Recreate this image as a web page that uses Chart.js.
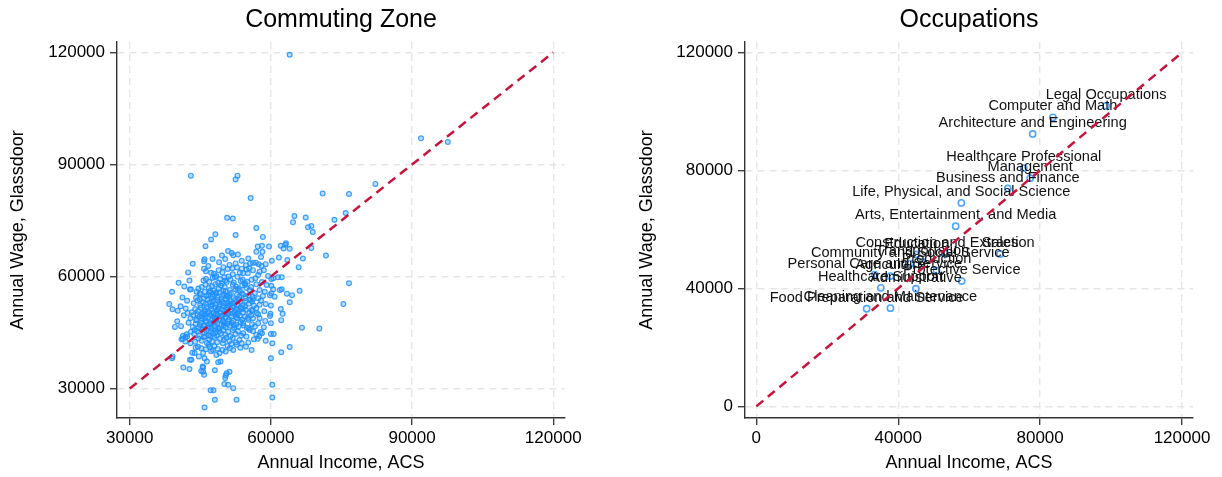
<!DOCTYPE html>
<html>
<head>
<meta charset="utf-8">
<script src="https://cdn.jsdelivr.net/npm/chart.js@4/dist/chart.umd.min.js"></script>
<style>
  html, body { margin: 0; padding: 0; background: #ffffff; }
  #wrap { position: relative; width: 1222px; height: 477px; }
  canvas { position: absolute; top: 0; }
  #cz { left: 0; }
  #occ { left: 611px; }
</style>
</head>
<body>
<div id="wrap">
  <canvas id="cz" width="611" height="477"></canvas>
  <canvas id="occ" width="611" height="477"></canvas>
</div>
<script>
// Commuting zones: [annual income ACS, annual wage Glassdoor], in thousands of dollars
const czPairs = [
  [64.0,119.4],[91.9,97.0],[97.6,96.0],[43.0,87.0],[52.9,87.0],[52.5,86.0],[55.7,81.0],[82.2,84.8],
  [71.0,82.2],[76.6,82.1],[75.9,77.0],[73.5,75.2],[65.0,76.2],[64.7,74.5],[67.4,75.8],[67.9,73.2],
  [68.6,73.5],[68.9,71.9],[50.7,75.7],[51.9,75.5],[48.2,71.3],[47.3,69.9],[52.5,71.1],[56.9,73.0],
  [58.3,70.6],[46.1,68.1],[57.2,68.0],[56.9,66.6],[58.2,66.6],[59.6,68.0],[63.2,68.9],[63.1,68.5],
  [62.1,68.2],[62.7,67.5],[64.0,67.4],[68.6,67.6],[71.7,65.6],[66.8,64.8],[65.9,62.5],[60.2,64.2],
  [61.7,65.1],[63.5,64.4],[76.6,58.2],[75.4,52.6],[70.3,46.1],[66.6,46.3],[66.1,56.2],[64.5,55.0],
  [63.4,55.4],[64.0,53.1],[62.1,51.3],[62.5,50.0],[62.2,48.3],[64.0,41.1],[62.2,39.7],[60.0,38.1],
  [60.3,31.0],[60.3,27.6],[52.0,30.1],[52.7,27.0],[50.9,31.0],[50.1,31.2],[50.3,32.8],[50.4,33.5],
  [50.6,34.1],[51.2,34.5],[47.2,29.5],[47.8,29.5],[48.1,27.0],[45.9,24.9],[48.1,34.9],[45.6,35.6],
  [45.8,33.7],[41.4,35.6],[42.7,35.2],[39.0,38.1],[42.8,37.7],[38.4,52.6],[39.1,51.2],[39.0,55.9],
  [40.4,58.3],[39.6,46.5],[40.1,48.0],[40.9,46.7],[41.3,43.3],[41.8,43.7],[42.2,43.9],[42.4,61.1],
  [43.4,63.4],[42.2,53.5],[42.8,56.5],[42.5,47.6],[43.0,45.2],[42.9,42.1],
  [51.7,66.3],[52.0,65.7],[53.0,65.9],[50.3,64.7],[45.9,64.6],[45.8,64.1],[45.8,62.1],[46.2,61.4],
  [46.7,62.8],[51.8,62.2],[50.8,62.0],[52.8,62.4],[47.9,60.7],[48.4,60.1],[48.1,59.8],[45.7,58.9],
  [46.2,59.3],[43.0,56.6],[49.2,59.3],[50.1,59.8],[49.6,58.2],[51.0,60.0],[50.6,58.5],[52.5,56.6],
  [53.0,56.7],[47.1,56.1],[46.7,55.1],[47.7,54.6],[44.2,55.9],[44.9,55.5],[48.4,55.5],[49.7,54.8],
  [50.6,54.8],
  [58.1,68.2],[57.9,65.2],[56.2,63.7],[56.8,63.7],[57.4,63.3],[55.6,63.5],[58.9,63.3],[58.0,62.8],
  [58.5,61.7],[53.8,62.1],[54.8,61.9],[55.4,62.2],[56.2,61.7],[54.1,60.9],[55.1,60.9],[54.0,59.1],
  [55.0,58.6],[55.9,59.1],[56.7,59.5],[57.3,60.4],[57.6,61.3],[59.4,60.1],[60.1,59.3],[60.5,59.5],
  [61.5,59.8],[62.3,59.8],[62.3,56.6],[59.1,57.7],[60.1,57.5],[60.5,56.6],[61.9,56.4],[59.8,55.0],
  [60.8,54.6],[60.1,55.5],[58.7,55.9],[57.6,56.4],[54.5,57.7],[55.5,56.4],[56.6,55.5],[54.1,55.1],
  [56.1,54.6],[57.3,54.2],
  [44.2,48.4],[44.9,47.0],[43.8,45.7],[45.6,46.1],[41.3,44.1],[42.1,44.5],[41.0,43.2],[41.8,42.6],
  [39.1,38.6],[43.3,39.6],[43.8,39.5],[43.1,37.7],[44.5,41.2],[45.2,40.8],[45.6,39.5],[44.7,38.6],
  [45.9,38.1],[46.4,37.2],[45.5,35.9],[45.6,34.5],[45.2,34.7],[47.0,41.2],[47.7,40.3],[48.4,39.0],
  [49.1,39.5],[49.7,40.3],[50.4,39.9],[51.3,40.8],[52.0,40.3],[52.7,41.7],[49.3,37.2],[48.8,37.0],
  [60.0,52.2],[58.9,52.6],[59.9,50.0],[59.8,49.4],[60.0,47.5],[58.5,46.4],[57.8,45.1],[58.1,44.8],
  [60.0,44.6],[60.6,44.6],[56.9,44.4],[56.4,43.2],[57.2,43.3],[58.9,42.8],[60.3,42.1],[54.8,43.9],
  [55.2,42.3],[55.9,40.3],[54.7,41.2],[53.8,42.1],[54.1,44.8],[55.5,45.7],[56.6,46.6],[57.3,47.5],
  [57.6,48.8],[56.2,48.8],[55.2,48.4],[54.1,47.5],[55.9,51.0],[54.5,51.9],[56.9,51.5],[57.6,52.4],
  [45.3,57.2],[46.1,57.8],[46.8,56.9],[47.5,57.4],[48.2,57.9],[48.9,56.7],[49.4,57.6],[50.2,57.1],
  [51.3,56.4],[51.9,57.8],[52.6,57.3],[53.4,56.2],[53.9,57.6],[54.8,56.9],[49.9,56.2],[47.9,56.3],
  [44.6,56.8],
  [44.1,54.3],[45.1,55.2],[45.7,54.1],[46.3,54.8],[46.9,55.7],[47.4,54.2],[48.0,55.0],[48.6,54.4],
  [49.1,55.8],[49.5,54.0],[50.0,55.3],[50.9,54.5],[51.5,55.6],[52.1,54.2],[52.8,55.1],[53.3,54.6],
  [53.9,55.5],[54.6,54.2],[55.3,55.0],[56.2,53.9],[51.2,55.0],[48.3,55.7],[46.0,55.9],[50.4,56.0],
  [43.6,52.8],[44.4,53.6],[45.0,52.3],[45.6,53.1],[46.2,52.6],[46.6,53.8],[47.2,52.1],[47.7,53.3],
  [48.2,52.7],[48.7,53.7],[49.2,52.4],[49.6,53.2],[50.1,52.8],[50.5,53.9],[51.0,52.2],[51.4,53.4],
  [51.9,52.9],[52.4,53.7],[52.9,52.5],[53.5,53.2],[54.0,52.3],[54.7,53.5],[55.3,52.7],[56.0,53.3],
  [47.0,53.0],[49.9,52.0],[52.2,52.0],[44.9,53.9],[53.1,53.9],
  [43.2,50.4],[43.9,51.3],[44.5,50.7],[45.1,51.6],[45.5,50.2],[46.0,51.0],[46.4,51.8],[46.9,50.5],
  [47.3,51.3],[47.8,50.1],[48.1,51.7],[48.5,50.8],[48.9,51.4],[49.3,50.3],[49.7,51.1],[50.2,50.6],
  [50.6,51.8],[51.0,50.2],[51.5,51.0],[51.8,51.7],[52.3,50.5],[52.7,51.3],[53.2,50.9],[53.6,51.7],
  [54.1,50.4],[54.7,51.1],[55.4,50.3],[56.1,50.8],[57.0,50.2],[45.8,50.6],[48.3,50.0],[50.9,51.5],
  [53.0,50.1],
  [42.9,48.8],[43.5,49.6],[44.1,48.3],[44.8,49.2],[45.3,48.7],[45.9,49.8],[46.3,48.1],[46.7,49.0],
  [47.1,49.7],[47.5,48.4],[47.9,49.3],[48.3,48.0],[48.7,49.6],[49.0,48.6],[49.4,49.4],[49.8,48.2],
  [50.3,49.1],[50.7,49.9],[51.1,48.5],[51.6,49.3],[52.0,48.1],[52.5,49.7],[52.9,48.8],[53.4,49.5],
  [53.9,48.4],[54.5,49.2],[55.1,48.9],[55.8,49.6],[46.0,48.9],[48.5,48.9],[50.9,48.0],[44.4,49.9],
  [43.4,46.5],[44.0,47.3],[44.6,46.2],[45.2,47.6],[45.7,46.8],[46.1,47.9],[46.5,46.3],[46.9,47.2],
  [47.4,46.0],[47.8,47.7],[48.2,46.6],[48.6,47.4],[49.1,46.1],[49.5,47.0],[49.9,47.8],[50.4,46.4],
  [50.8,47.3],[51.3,46.8],[51.7,47.6],[52.2,46.2],[52.6,47.1],[53.1,46.6],[53.6,47.8],[54.2,46.9],
  [54.9,46.3],[47.0,46.6],[48.8,46.0],[50.0,46.9],
  [43.7,44.6],[44.3,45.4],[44.8,44.1],[45.4,45.8],[45.9,44.9],[46.3,45.5],[46.8,44.3],[47.2,45.1],
  [47.7,44.7],[48.1,45.9],[48.5,44.2],[49.0,45.3],[49.4,44.8],[49.9,45.6],[50.3,44.4],[50.9,45.2],
  [51.4,44.0],[51.9,45.7],[52.5,44.6],[53.0,45.3],[53.7,44.2],[46.0,44.0],[48.3,45.0],
  [43.9,42.5],[44.6,43.4],[45.3,42.8],[45.8,43.7],[46.4,42.2],[46.9,43.1],[47.5,42.6],[48.0,43.8],
  [48.6,42.4],[49.2,43.3],[49.8,42.1],[50.5,43.6],[51.2,42.7],[51.9,43.5],[52.6,42.3],[53.3,43.0],
  [47.2,43.9],[50.0,43.0],
  [44.0,41.0],[46.2,40.5],[46.8,41.7],[48.0,41.3],[48.7,40.6],[50.8,41.4],[51.6,41.9],[53.5,40.9],
  [47.3,40.0],
  [46.9,58.6],[47.6,59.6],[48.8,58.3],[49.7,61.1],[50.3,58.9],[51.4,59.2],[52.1,58.4],[52.9,59.9],
  [53.6,58.8],[54.5,58.2],[51.9,60.6],[53.4,61.0],[48.9,61.7],[47.3,61.0],[49.9,62.5],[52.5,63.5],
  [54.7,63.0],[53.8,64.2],[49.0,63.8],[51.2,63.1],[47.6,64.7],[55.2,64.8],[50.9,66.8],[49.6,65.6],
  [55.8,57.2],[56.9,57.9],[58.1,58.5],[56.4,52.2],[57.9,53.6],[58.6,50.7],[57.3,49.9],[58.8,48.1],
  [56.0,47.2],[55.3,46.1],[57.5,44.0],[56.2,45.3],[58.3,54.8],[55.6,53.7],
  [40.8,52.0],[41.5,49.6],[41.9,51.4],[42.3,50.2],[40.2,50.8],[41.2,54.4],[42.7,58.9],[41.6,57.3],
  [48.6,51.1],[49.8,49.6],[51.4,52.6],[50.4,50.0],[47.6,52.4],[52.6,49.0],[49.0,53.0],[50.8,53.0],
  [46.6,50.2],[53.8,51.3],[45.4,49.3],[51.9,50.0],[48.0,48.8],[50.1,47.5],[52.1,47.0],[47.3,47.5]
];

// Occupation groups
const occNames = [
  "Legal Occupations", "Computer and Math", "Architecture and Engineering",
  "Healthcare Professional", "Management", "Business and Finance",
  "Life, Physical, and Social Science", "Arts, Entertainment, and Media", "Sales",
  "Construction and Extraction", "Education", "Community and Social Service",
  "Transportation", "Production", "Personal Care and Service", "Agriculture",
  "Protective Service", "Healthcare Support", "Administrative",
  "Cleaning and Maintenance", "Food Preparation and Service"
];
const occIncome = [98600, 83600, 77900, 75400, 77200, 70900, 57800, 56200, 68700, 53200, 45200,
                   43400, 46800, 50800, 33400, 37800, 57900, 35100, 45000, 37800, 31100];
const occWage   = [101900, 98000, 92400, 80800, 77400, 73900, 69000, 61100, 51700, 51800, 51500,
                   48400, 49000, 46100, 44700, 44200, 42500, 40200, 39900, 33300, 33100];

// Tick values and 45-degree reference lines
const czTicks = [30000, 60000, 90000, 120000];
const occTicks = [0, 40000, 80000, 120000];
const czDiagonal = [30000, 120000];
const occDiagonal = [0, 120000];

const FONT = "'Liberation Sans', Arial, sans-serif";
const LINE_RED = '#c8143c';

function axis(opts) {
  return {
    type: 'linear',
    min: opts.min,
    max: opts.max,
    afterBuildTicks: s => { s.ticks = opts.ticks.map(v => ({ value: v })); },
    afterFit: s => { if (opts.isY) s.width = opts.size; else s.height = opts.size; },
    grid: { color: '#e6e6e6', lineWidth: 1.4, drawTicks: true, tickLength: 7, tickColor: '#333', tickWidth: 1.3 },
    border: { display: true, color: '#333', width: 1.4, dash: [7, 5] },
    ticks: {
      color: '#000', font: { family: FONT, size: 17 }, padding: opts.isY ? 5 : 3,
      maxRotation: 0, autoSkip: false, callback: v => String(v)
    },
    title: {
      display: true, text: opts.title, color: '#000',
      font: { family: FONT, size: 18 }, padding: opts.titlePad
    }
  };
}

// Occupation names written above their markers
const pointLabels = {
  id: 'pointLabels',
  afterDatasetDraw(chart, args, pluginOpts) {
    if (!pluginOpts || !pluginOpts.labels || args.meta.type !== 'scatter' || args.index !== 1) return;
    const ctx = chart.ctx;
    ctx.save();
    ctx.font = '14.6px ' + FONT;
    ctx.fillStyle = '#111';
    ctx.textAlign = 'center';
    ctx.textBaseline = 'middle';
    args.meta.data.forEach((pt, i) => {
      ctx.fillText(pluginOpts.labels[i], pt.x, pt.y - 11);
    });
    ctx.restore();
  }
};

function makeChart(id, cfg) {
  return new Chart(document.getElementById(id), {
    type: 'scatter',
    data: {
      datasets: [
        {
          type: 'line',
          data: cfg.diagonal.map(v => ({ x: v, y: v })),
          borderColor: LINE_RED, borderWidth: 2.5, borderDash: [9, 6],
          pointRadius: 0, fill: false, order: 0
        },
        {
          type: 'scatter',
          data: cfg.points,
          pointStyle: 'circle',
          pointRadius: cfg.radius,
          borderWidth: cfg.pointBorder,
          borderColor: cfg.pointColor,
          backgroundColor: cfg.pointFill,
          order: 1
        }
      ]
    },
    options: {
      responsive: false,
      animation: false,
      layout: { padding: { left: 0, right: cfg.rightPad, top: 0, bottom: 0 } },
      plugins: {
        legend: { display: false },
        tooltip: { enabled: false },
        title: {
          display: true, text: cfg.title, color: '#000', fullSize: false,
          font: { family: FONT, size: 25, weight: 'normal', lineHeight: 1.2 },
          padding: { top: 5, bottom: 7 }
        },
        pointLabels: { labels: cfg.labels || null }
      },
      scales: {
        x: axis({ min: cfg.xMin, max: cfg.xMax, ticks: cfg.ticks, title: 'Annual Income, ACS',
                  isY: false, size: 59, titlePad: { top: 0, bottom: 3 } }),
        y: axis({ min: cfg.yMin, max: cfg.yMax, ticks: cfg.ticks, title: 'Annual Wage, Glassdoor',
                  isY: true, size: cfg.yAxisWidth, titlePad: { top: cfg.yTitlePad, bottom: 0 } })
      }
    },
    plugins: [pointLabels]
  });
}

makeChart('cz', {
  title: 'Commuting Zone',
  points: czPairs.map(p => ({ x: p[0] * 1000, y: p[1] * 1000 })),
  diagonal: czDiagonal,
  ticks: czTicks,
  xMin: 27300, xMax: 122500, yMin: 22100, yMax: 122800,
  radius: 2.4, pointBorder: 1.2,
  pointColor: 'rgba(30,144,255,0.85)', pointFill: 'rgba(30,144,255,0.3)',
  rightPad: 46, yAxisWidth: 117, yTitlePad: 7
});

makeChart('occ', {
  title: 'Occupations',
  points: occIncome.map((v, i) => ({ x: v, y: occWage[i] })),
  labels: occNames,
  diagonal: occDiagonal,
  ticks: occTicks,
  xMin: -3190, xMax: 123100, yMin: -3950, yMax: 123580,
  radius: 3.1, pointBorder: 1.6,
  pointColor: 'rgba(70,160,255,0.95)', pointFill: 'rgba(255,255,255,0)',
  rightPad: 29, yAxisWidth: 134, yTitlePad: 25
});
</script>
</body>
</html>
